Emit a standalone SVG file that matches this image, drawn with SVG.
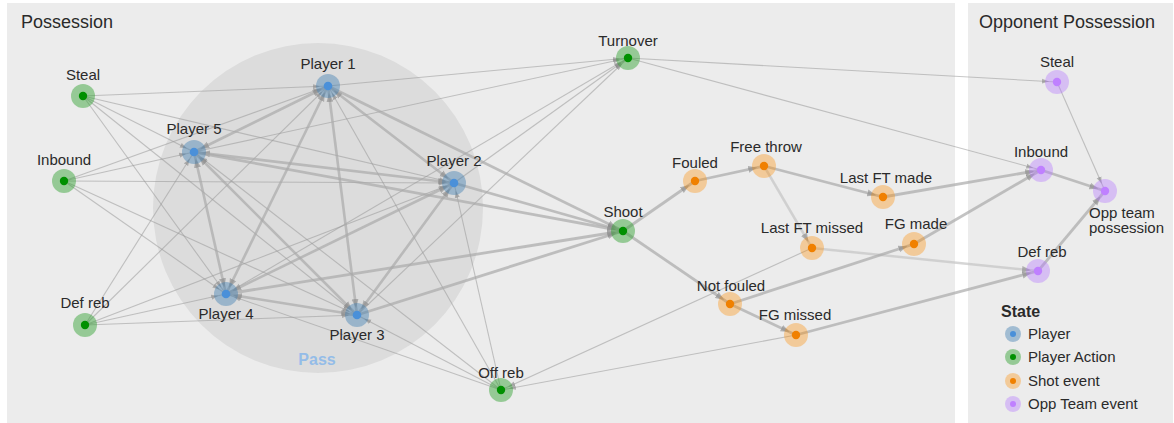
<svg xmlns="http://www.w3.org/2000/svg" width="1174" height="423" viewBox="0 0 1174 423">
<style>
.panel{fill:#ececec}
.t{font-family:"Liberation Sans",Arial,sans-serif;font-size:15px;fill:#2a2a2a;text-anchor:middle}
.h{font-family:"Liberation Sans",Arial,sans-serif;font-size:18px;fill:#2a2a2a}
.e1{stroke:#999;stroke-opacity:.55;stroke-width:1.1;fill:none;marker-end:url(#a1)}
.e3{stroke:#aaa;stroke-opacity:.7;stroke-width:2.8;fill:none;marker-end:url(#a3)}
.ep{stroke:#aaa;stroke-opacity:.7;stroke-width:2.6;fill:none;marker-end:url(#a3);marker-start:url(#a3)}
.el{stroke:#c4c4c4;stroke-opacity:.7;stroke-width:2.5;fill:none;marker-end:url(#a3)}
.pO{fill:#4682b4;fill-opacity:.45}.pI{fill:#4a90d9}
.aO{fill:#2ca02c;fill-opacity:.45}.aI{fill:#009000}
.sO{fill:#ff8c00;fill-opacity:.35}.sI{fill:#f08000}
.oO{fill:#b77bff;fill-opacity:.4}.oI{fill:#bf80ff}
</style>
<defs>
<marker id="a1" markerUnits="userSpaceOnUse" markerWidth="7" markerHeight="6" refX="15" refY="3" orient="auto-start-reverse"><path d="M0,0.5 L7,3 L0,5.5 z" fill="#888" fill-opacity=".6"/></marker>
<marker id="a3" markerUnits="userSpaceOnUse" markerWidth="9" markerHeight="8" refX="16" refY="4" orient="auto-start-reverse"><path d="M0,0.5 L9,4 L0,7.5 z" fill="#888" fill-opacity=".6"/></marker>
</defs>
<rect width="1174" height="423" fill="#fff"/>
<rect class="panel" x="7" y="3" width="948" height="420"/>
<rect class="panel" x="968" y="3" width="205" height="420"/>
<text class="h" x="21" y="28">Possession</text>
<text class="h" x="979" y="28">Opponent Possession</text>
<g id="pass-group">
<circle cx="318" cy="208" r="165" fill="#dcdcdc"/>
<text x="317" y="365" font-family="'Liberation Sans',Arial,sans-serif" font-size="16" font-weight="bold" fill="#94bce8" text-anchor="middle">Pass</text>
</g>
<g id="connectors">
<line class="e1" x1="83" y1="96" x2="328" y2="86"/>
<line class="e1" x1="83" y1="96" x2="454" y2="183"/>
<line class="e1" x1="83" y1="96" x2="357" y2="315"/>
<line class="e1" x1="83" y1="96" x2="226" y2="294"/>
<line class="e1" x1="83" y1="96" x2="194" y2="152"/>
<line class="e1" x1="64" y1="181" x2="328" y2="86"/>
<line class="e1" x1="64" y1="181" x2="454" y2="183"/>
<line class="e1" x1="64" y1="181" x2="357" y2="315"/>
<line class="e1" x1="64" y1="181" x2="226" y2="294"/>
<line class="e1" x1="64" y1="181" x2="194" y2="152"/>
<line class="e1" x1="85" y1="325" x2="328" y2="86"/>
<line class="e1" x1="85" y1="325" x2="454" y2="183"/>
<line class="e1" x1="85" y1="325" x2="357" y2="315"/>
<line class="e1" x1="85" y1="325" x2="226" y2="294"/>
<line class="e1" x1="85" y1="325" x2="194" y2="152"/>
<line class="e1" x1="501" y1="390" x2="328" y2="86"/>
<line class="e1" x1="501" y1="390" x2="454" y2="183"/>
<line class="e1" x1="501" y1="390" x2="357" y2="315"/>
<line class="e1" x1="501" y1="390" x2="226" y2="294"/>
<line class="e1" x1="501" y1="390" x2="194" y2="152"/>
<line class="e1" x1="328" y1="86" x2="628" y2="58"/>
<line class="e1" x1="454" y1="183" x2="628" y2="58"/>
<line class="e1" x1="357" y1="315" x2="628" y2="58"/>
<line class="e1" x1="226" y1="294" x2="628" y2="58"/>
<line class="e1" x1="194" y1="152" x2="628" y2="58"/>
<line class="e1" x1="628" y1="58" x2="1057" y2="82"/>
<line class="e1" x1="628" y1="58" x2="1041" y2="170"/>
<line class="e1" x1="812" y1="248" x2="501" y2="390"/>
<line class="e1" x1="796" y1="335" x2="501" y2="390"/>
<line class="e1" x1="1057" y1="82" x2="1105" y2="191"/>
<line class="ep" x1="328" y1="86" x2="454" y2="183"/>
<line class="ep" x1="328" y1="86" x2="357" y2="315"/>
<line class="ep" x1="328" y1="86" x2="226" y2="294"/>
<line class="ep" x1="328" y1="86" x2="194" y2="152"/>
<line class="ep" x1="454" y1="183" x2="357" y2="315"/>
<line class="ep" x1="454" y1="183" x2="226" y2="294"/>
<line class="ep" x1="454" y1="183" x2="194" y2="152"/>
<line class="ep" x1="357" y1="315" x2="226" y2="294"/>
<line class="ep" x1="357" y1="315" x2="194" y2="152"/>
<line class="ep" x1="226" y1="294" x2="194" y2="152"/>
<line class="e3" x1="328" y1="86" x2="623" y2="231"/>
<line class="e3" x1="454" y1="183" x2="623" y2="231"/>
<line class="e3" x1="357" y1="315" x2="623" y2="231"/>
<line class="e3" x1="226" y1="294" x2="623" y2="231"/>
<line class="e3" x1="194" y1="152" x2="623" y2="231"/>
<line class="e3" x1="623" y1="231" x2="695" y2="181"/>
<line class="e3" x1="623" y1="231" x2="730" y2="304"/>
<line class="e3" x1="695" y1="181" x2="764" y2="166"/>
<line class="e3" x1="764" y1="166" x2="883" y2="197"/>
<line class="el" x1="764" y1="166" x2="812" y2="248"/>
<line class="e3" x1="883" y1="197" x2="1041" y2="170"/>
<line class="el" x1="812" y1="248" x2="1038" y2="271"/>
<line class="e3" x1="730" y1="304" x2="914" y2="244"/>
<line class="e3" x1="730" y1="304" x2="796" y2="335"/>
<line class="e3" x1="914" y1="244" x2="1041" y2="170"/>
<line class="e3" x1="796" y1="335" x2="1038" y2="271"/>
<line class="e3" x1="1041" y1="170" x2="1105" y2="191"/>
<line class="e3" x1="1038" y1="271" x2="1105" y2="191"/>
</g>
<g id="n-steal"><circle class="aO" cx="83" cy="96" r="12"/><circle class="aI" cx="83" cy="96" r="4.2"/><text class="t" x="83" y="80">Steal</text></g>
<g id="n-inbound"><circle class="aO" cx="64" cy="181" r="12"/><circle class="aI" cx="64" cy="181" r="4.2"/><text class="t" x="64" y="165">Inbound</text></g>
<g id="n-defreb"><circle class="aO" cx="85" cy="325" r="12"/><circle class="aI" cx="85" cy="325" r="4.2"/><text class="t" x="85" y="308">Def reb</text></g>
<g id="n-offreb"><circle class="aO" cx="501" cy="390" r="12"/><circle class="aI" cx="501" cy="390" r="4.2"/><text class="t" x="501" y="378">Off reb</text></g>
<g id="n-turnover"><circle class="aO" cx="628" cy="58" r="12"/><circle class="aI" cx="628" cy="58" r="4.2"/><text class="t" x="628" y="46">Turnover</text></g>
<g id="n-shoot"><circle class="aO" cx="623" cy="231" r="12"/><circle class="aI" cx="623" cy="231" r="4.2"/><text class="t" x="623" y="217">Shoot</text></g>
<g id="n-p1"><circle class="pO" cx="328" cy="86" r="12"/><circle class="pI" cx="328" cy="86" r="4.3"/><text class="t" x="328" y="69">Player 1</text></g>
<g id="n-p2"><circle class="pO" cx="454" cy="183" r="12"/><circle class="pI" cx="454" cy="183" r="4.3"/><text class="t" x="454" y="166">Player 2</text></g>
<g id="n-p3"><circle class="pO" cx="357" cy="315" r="12"/><circle class="pI" cx="357" cy="315" r="4.3"/><text class="t" x="357" y="340">Player 3</text></g>
<g id="n-p4"><circle class="pO" cx="226" cy="294" r="12"/><circle class="pI" cx="226" cy="294" r="4.3"/><text class="t" x="226" y="319">Player 4</text></g>
<g id="n-p5"><circle class="pO" cx="194" cy="152" r="12"/><circle class="pI" cx="194" cy="152" r="4.3"/><text class="t" x="194" y="134">Player 5</text></g>
<g id="n-fouled"><circle class="sO" cx="695" cy="181" r="12"/><circle class="sI" cx="695" cy="181" r="4.2"/><text class="t" x="695" y="168">Fouled</text></g>
<g id="n-freethrow"><circle class="sO" cx="764" cy="166" r="12"/><circle class="sI" cx="764" cy="166" r="4.2"/><text class="t" x="766" y="152">Free throw</text></g>
<g id="n-lastftmade"><circle class="sO" cx="883" cy="197" r="12"/><circle class="sI" cx="883" cy="197" r="4.2"/><text class="t" x="886" y="183">Last FT made</text></g>
<g id="n-lastftmissed"><circle class="sO" cx="812" cy="248" r="12"/><circle class="sI" cx="812" cy="248" r="4.2"/><text class="t" x="812" y="233">Last FT missed</text></g>
<g id="n-notfouled"><circle class="sO" cx="730" cy="304" r="12"/><circle class="sI" cx="730" cy="304" r="4.2"/><text class="t" x="731" y="291">Not fouled</text></g>
<g id="n-fgmade"><circle class="sO" cx="914" cy="244" r="12"/><circle class="sI" cx="914" cy="244" r="4.2"/><text class="t" x="916" y="229">FG made</text></g>
<g id="n-fgmissed"><circle class="sO" cx="796" cy="335" r="12"/><circle class="sI" cx="796" cy="335" r="4.2"/><text class="t" x="795" y="320">FG missed</text></g>
<g id="n-oppsteal"><circle class="oO" cx="1057" cy="82" r="12"/><circle class="oI" cx="1057" cy="82" r="4.2"/><text class="t" x="1057" y="67">Steal</text></g>
<g id="n-oppinbound"><circle class="oO" cx="1041" cy="170" r="12"/><circle class="oI" cx="1041" cy="170" r="4.2"/><text class="t" x="1041" y="157">Inbound</text></g>
<g id="n-opppossession"><circle class="oO" cx="1105" cy="191" r="12"/><circle class="oI" cx="1105" cy="191" r="4.2"/><text class="t" x="1089" y="218" style="text-anchor:start">Opp team</text><text class="t" x="1089" y="233" style="text-anchor:start">possession</text></g>
<g id="n-oppdefreb"><circle class="oO" cx="1038" cy="271" r="12"/><circle class="oI" cx="1038" cy="271" r="4.2"/><text class="t" x="1042" y="257">Def reb</text></g>
<g id="legend">
<text x="1001" y="317" font-family="'Liberation Sans',Arial,sans-serif" font-size="16" font-weight="bold" fill="#2a2a2a">State</text>
<circle class="pO" cx="1013" cy="334" r="8"/><circle class="pI" cx="1013" cy="334" r="3"/><text class="t" x="1028" y="339" style="text-anchor:start">Player</text>
<circle class="aO" cx="1013" cy="357" r="8"/><circle class="aI" cx="1013" cy="357" r="3"/><text class="t" x="1028" y="362" style="text-anchor:start">Player Action</text>
<circle class="sO" cx="1013" cy="381" r="8"/><circle class="sI" cx="1013" cy="381" r="3"/><text class="t" x="1028" y="386" style="text-anchor:start">Shot event</text>
<circle class="oO" cx="1013" cy="404" r="8"/><circle class="oI" cx="1013" cy="404" r="3"/><text class="t" x="1028" y="409" style="text-anchor:start">Opp Team event</text>
</g>
</svg>
